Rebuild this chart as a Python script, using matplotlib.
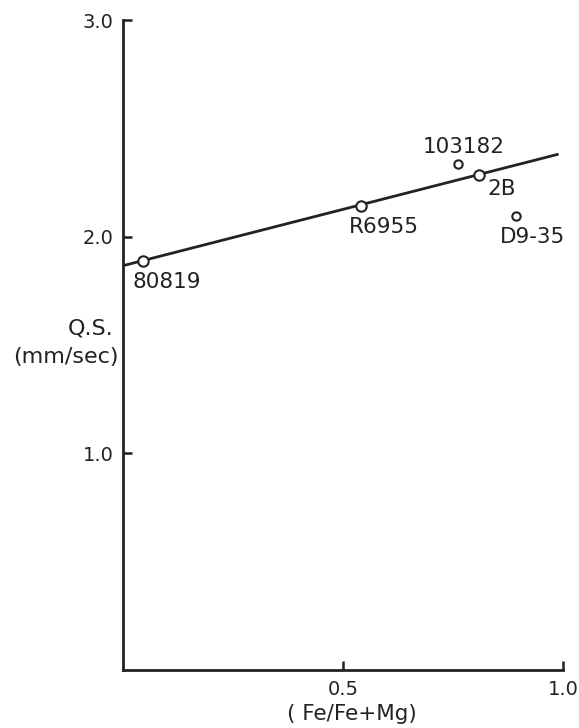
import matplotlib
matplotlib.use("Agg")
import matplotlib.pyplot as plt

# Quadrupole splitting vs. Fe/(Fe+Mg)
samples = ["80819", "R6955", "2B", "103182", "D9-35"]
fe_ratio = [0.046, 0.542, 0.810, 0.761, 0.893]
qs = [1.889, 2.143, 2.286, 2.337, 2.094]
on_line = [True, True, True, False, False]

# Linear trend line endpoints
fit_x = [0.0, 0.99]
fit_y = [1.866, 2.381]

x_ticks = [0.5, 1.0]
x_tick_labels = ["0.5", "1.0"]
y_ticks = [1.0, 2.0, 3.0]
y_tick_labels = ["1.0", "2.0", "3.0"]

# label offsets in points (dx, dy)
label_offsets = [(17, -15), (16, -15), (16, -10), (4, 12), (12, -15)]

ink = "#222222"
plt.rcParams["font.family"] = ["DejaVu Sans"]

fig = plt.figure(figsize=(5.79, 7.28), dpi=100)
ax = fig.add_axes([123 / 579, 1 - 670 / 728, 440 / 579, 650 / 728])

ax.plot(fit_x, fit_y, color=ink, lw=2.0, zorder=2, solid_capstyle="butt")

for name, x, y, main, off in zip(samples, fe_ratio, qs, on_line, label_offsets):
    ax.plot(x, y, "o", ms=7.5 if main else 6, mfc="white", mec=ink,
            mew=1.5, zorder=3, clip_on=False)
    ax.annotate(name, (x, y), xytext=off, textcoords="offset points",
                ha="center", va="center", fontsize=15.5, color=ink,
                annotation_clip=False)

ax.set_xlim(0, 1.0)
ax.set_ylim(0, 3.0)
ax.set_xticks(x_ticks)
ax.set_xticklabels(x_tick_labels)
ax.set_yticks(y_ticks)
ax.set_yticklabels(y_tick_labels)

for side in ("top", "right"):
    ax.spines[side].set_visible(False)
for side in ("left", "bottom"):
    ax.spines[side].set_linewidth(2.0)
    ax.spines[side].set_color(ink)

ax.tick_params(direction="in", length=6.5, width=1.8, color=ink,
               labelsize=14, labelcolor=ink, pad=7)

# y-axis title in two lines
ax.text(-0.023, 0.526, "Q.S.", transform=ax.transAxes, ha="right",
        va="center", fontsize=16, color=ink)
ax.text(-0.011, 0.4815, "(mm/sec)", transform=ax.transAxes, ha="right",
        va="center", fontsize=16, color=ink)

ax.set_xlabel("( Fe/Fe+Mg)", fontsize=15.5, color=ink, va="center")
ax.xaxis.set_label_coords(0.52, -0.068)

fig.savefig("out.png", dpi=100, facecolor="white")
